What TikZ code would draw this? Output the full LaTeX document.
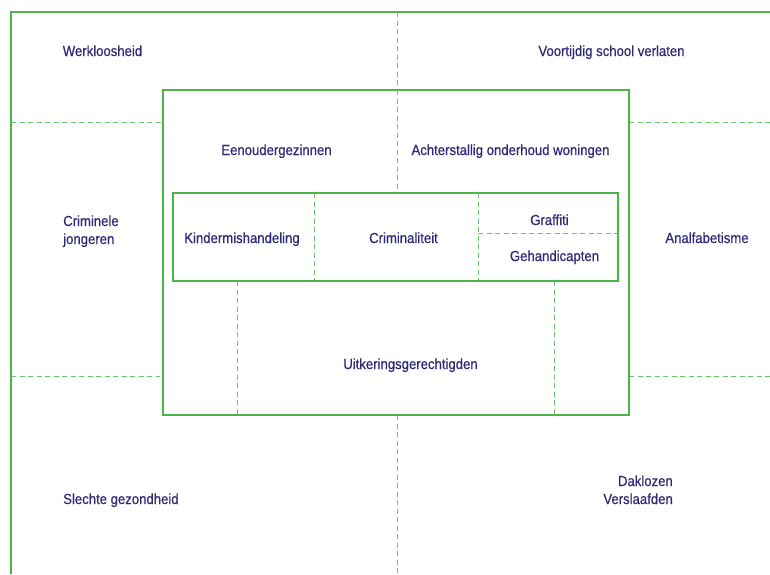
\documentclass[tikz,border=0pt]{standalone}
\usepackage{fontspec}
\setmainfont[FakeStretch=0.9,FakeBold=0.6]{Liberation Sans}
\definecolor{lg}{HTML}{4DB548}
\definecolor{lgd}{HTML}{6CC56A}
\definecolor{tx}{HTML}{2E2A78}
\begin{document}
\begin{tikzpicture}[x=1pt,y=-1pt,
  solidline/.style={draw=lg,line width=1.8pt},
  dashline/.style={draw=lgd,line width=1pt,dash pattern=on 5pt off 3.5pt},
  lbl/.style={text=tx,font=\fontsize{14.6}{18}\selectfont,inner sep=0pt,anchor=base},
  lbll/.style={lbl,align=left},
  lblr/.style={lbl,align=right}]
\useasboundingbox (0,0) rectangle (770,574);
% outer frame
\draw[solidline] (11,574) -- (11,12) -- (770,12);
% horizontal dashed lines outside inner box
\draw[dashline] (11,122) -- (163,122);
\draw[dashline] (629,122) -- (770,122);
\draw[dashline] (11,376) -- (160,376);
\draw[dashline] (629,376) -- (770,376);
% vertical dashed centre lines
\draw[dashline] (397,12) -- (397,193);
\draw[dashline] (397,415) -- (397,574);
% inner box
\draw[solidline,fill=white] (163,90) rectangle (629,415);
\draw[dashline] (397,90) -- (397,193);
% row box
\draw[dashline] (237,281) -- (237,415);
\draw[dashline] (554,281) -- (554,415);
\draw[dashline] (314,193) -- (314,281);
\draw[dashline] (478,193) -- (478,281);
\draw[dashline] (478,233) -- (618,233);
\draw[draw=lg,line width=1.4pt] (173,193) rectangle (618,281);
% labels
\node[lbl] (werk) at (102.5,56) {Werkloosheid};
\node[lbl] (voort) at (611.5,56) {Voortijdig school verlaten};
\node[lbl] (eenoud) at (276.5,155) {Eenoudergezinnen};
\node[lbl] (achter) at (510.5,155) {Achterstallig onderhoud woningen};
\node[lbll,anchor=base west] (crimj) at (63,244) {Criminele\\jongeren};
\node[lbl] (kinder) at (242,243) {Kindermishandeling};
\node[lbl] (crimi) at (403.5,243) {Criminaliteit};
\node[lbl] (graf) at (549.5,225) {Graffiti};
\node[lbl] (gehan) at (554.5,261) {Gehandicapten};
\node[lbl] (analf) at (707,243) {Analfabetisme};
\node[lbl] (uitk) at (410.5,369) {Uitkeringsgerechtigden};
\node[lbl,anchor=base west] (slecht) at (63,504) {Slechte gezondheid};
\node[lblr,anchor=base east] (dakl) at (673,504) {Daklozen\\Verslaafden};
\end{tikzpicture}
\end{document}
